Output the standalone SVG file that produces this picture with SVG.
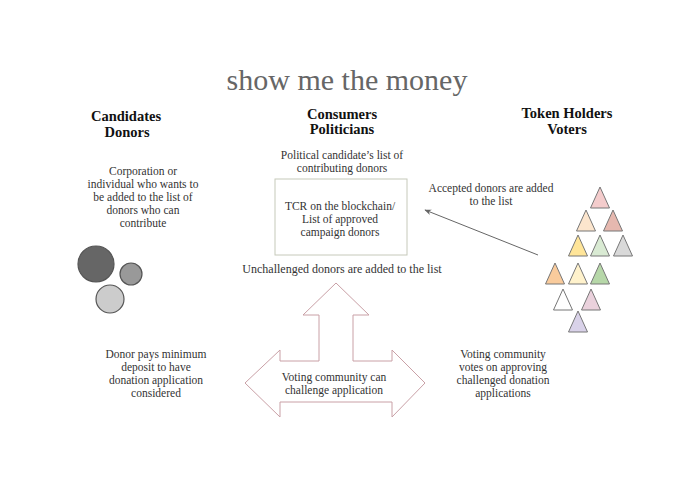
<svg xmlns="http://www.w3.org/2000/svg" width="695" height="494" viewBox="0 0 695 494">
<style>
text{font-family:"Liberation Serif","Times New Roman",serif;fill:#333;text-anchor:middle;font-size:12px}
.sm{font-size:11.5px}
.hd{font-weight:bold;font-size:14.5px;fill:#111}
.title{font-size:30px;fill:#666}
.tri{stroke:#777;stroke-width:1}
.circ{stroke:#555;stroke-width:1.2}
</style>
<defs>
<marker id="ah" viewBox="0 0 10 10" refX="9" refY="5" markerWidth="7" markerHeight="7" orient="auto-start-reverse" markerUnits="userSpaceOnUse">
<path d="M0,1 L10,5 L0,9 L3,5 Z" fill="#666"/>
</marker>
<path id="t" d="M0,0 L9.5,21 L-9.5,21 Z"/>
</defs>
<rect width="695" height="494" fill="#fff"/>
<text class="title" x="347" y="90">show me the money</text>

<g id="candidates">
<text class="hd" x="126" y="121">Candidates</text>
<text class="hd" x="127" y="137">Donors</text>
<text class="sm" x="143" y="175">Corporation or</text>
<text class="sm" x="143" y="188">individual who wants to</text>
<text class="sm" x="143" y="201">be added to the list of</text>
<text class="sm" x="143" y="214">donors who can</text>
<text class="sm" x="143" y="227">contribute</text>
</g>
<g id="circles">
<circle class="circ" cx="96" cy="264" r="18" fill="#666"/>
<circle class="circ" cx="131" cy="274" r="11" fill="#999"/>
<circle class="circ" cx="110" cy="299" r="14" fill="#ccc"/>
</g>

<g id="consumers">
<text class="hd" x="342" y="119">Consumers</text>
<text class="hd" x="342" y="134">Politicians</text>
<text class="sm" x="342" y="159">Political candidate’s list of</text>
<text class="sm" x="342" y="172">contributing donors</text>
</g>
<g id="tcr">
<rect x="275" y="179" width="132" height="76" fill="#fff" stroke="#c6c9ba" stroke-width="1"/>
<text class="sm" x="340" y="210">TCR on the blockchain/</text>
<text class="sm" x="340" y="223">List of approved</text>
<text class="sm" x="340" y="236">campaign donors</text>
</g>
<text x="342" y="273">Unchallenged donors are added to the list</text>

<g id="tokenholders">
<text class="hd" x="567" y="118">Token Holders</text>
<text class="hd" x="567" y="134">Voters</text>
<text class="sm" x="491" y="192">Accepted donors are added</text>
<text class="sm" x="491" y="205">to the list</text>
</g>
<g id="triangles">
<use href="#t" class="tri" x="600" y="187" fill="#f4cccc"/>
<use href="#t" class="tri" x="586" y="210" fill="#fce5cd"/>
<use href="#t" class="tri" x="613" y="210" fill="#e6b8af"/>
<use href="#t" class="tri" x="578" y="235" fill="#ffe599"/>
<use href="#t" class="tri" x="600" y="235" fill="#d9ead3"/>
<use href="#t" class="tri" x="623" y="235" fill="#d9d9d9"/>
<use href="#t" class="tri" x="555" y="263" fill="#f9cb9c"/>
<use href="#t" class="tri" x="578" y="263" fill="#fff2cc"/>
<use href="#t" class="tri" x="600" y="263" fill="#b6d7a8"/>
<use href="#t" class="tri" x="563" y="289" fill="#ffffff"/>
<use href="#t" class="tri" x="591" y="289" fill="#ead1dc"/>
<use href="#t" class="tri" x="578" y="311" fill="#d9d2e9"/>
</g>

<g id="connectors">
<line x1="538" y1="255" x2="425" y2="210" stroke="#666" stroke-width="1" marker-end="url(#ah)"/>
</g>

<g id="challenge">
<path d="M336,283 L369,315 L353,315 L353,361 L392,361 L392,350 L425,383 L392,417 L392,402 L280,402 L280,417 L245,383 L280,350 L280,361 L319,361 L319,315 L303,315 Z" fill="#fff" stroke="#c9a0a6" stroke-width="1"/>
<text class="sm" x="334" y="381">Voting community can</text>
<text class="sm" x="334" y="394">challenge application</text>
</g>

<g id="deposit">
<text class="sm" x="156" y="358">Donor pays minimum</text>
<text class="sm" x="156" y="371">deposit to have</text>
<text class="sm" x="156" y="384">donation application</text>
<text class="sm" x="156" y="397">considered</text>
</g>
<g id="votes">
<text class="sm" x="503" y="358">Voting community</text>
<text class="sm" x="503" y="371">votes on approving</text>
<text class="sm" x="503" y="384">challenged donation</text>
<text class="sm" x="503" y="397">applications</text>
</g>
</svg>
